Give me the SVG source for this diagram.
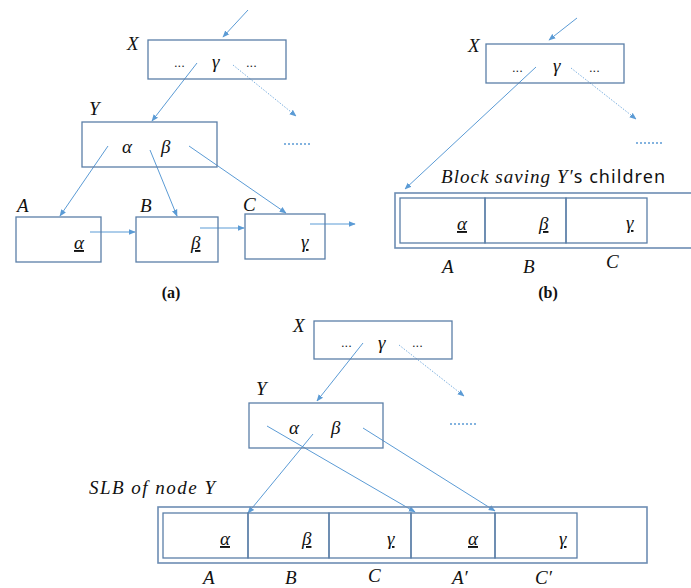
<svg xmlns="http://www.w3.org/2000/svg" width="691" height="588" viewBox="0 0 691 588">
<style>
.box{fill:none;stroke:#5b7fa8;stroke-width:1.3}
.obox{fill:none;stroke:#6d8db3;stroke-width:1.6}
.ar{stroke:#5b9bd5;stroke-width:1;fill:none}
.dot{stroke:#5b9bd5;stroke-width:0.8;stroke-dasharray:1.5 1.5;fill:none}
.dl{stroke:#5b9bd5;stroke-width:1.5;stroke-dasharray:2 2;fill:none}
.m{font-family:"Liberation Serif",serif;font-style:italic;font-size:19px;fill:#111}
.u{text-decoration:underline;text-decoration-skip-ink:none}
.e{font-family:"Liberation Sans",sans-serif;font-size:13px;fill:#222}
.cap{font-family:"Liberation Serif",serif;font-weight:bold;font-size:16px;fill:#111;text-anchor:middle}
.s{font-family:"Noto Sans","Open Sans",sans-serif;font-size:18px;fill:#111}
</style>
<defs>
<marker id="ah" viewBox="0 0 10 10" refX="9" refY="5" markerWidth="7" markerHeight="7" orient="auto" markerUnits="userSpaceOnUse">
<path d="M0,1 L10,5 L0,9 Z" fill="#5b9bd5"/>
</marker>
</defs>

<g id="connectors">
<!-- (a) -->
<line class="ar" x1="248" y1="10" x2="223" y2="37" marker-end="url(#ah)"/>
<line class="ar" x1="197" y1="63" x2="152" y2="121" marker-end="url(#ah)"/>
<line class="dot" x1="233" y1="65" x2="296" y2="116" marker-end="url(#ah)"/>
<line class="dl" x1="284" y1="144" x2="311" y2="144"/>
<line class="ar" x1="108" y1="146" x2="60" y2="216" marker-end="url(#ah)"/>
<line class="ar" x1="150" y1="150" x2="177" y2="216" marker-end="url(#ah)"/>
<line class="ar" x1="189" y1="146" x2="286" y2="213" marker-end="url(#ah)"/>
<line class="ar" x1="90" y1="232" x2="135" y2="232" marker-end="url(#ah)"/>
<line class="ar" x1="200" y1="228" x2="244" y2="228" marker-end="url(#ah)"/>
<line class="ar" x1="310" y1="224" x2="355" y2="224" marker-end="url(#ah)"/>
<!-- (b) -->
<line class="ar" x1="577" y1="18" x2="549" y2="40" marker-end="url(#ah)"/>
<line class="ar" x1="536" y1="67" x2="405" y2="189" marker-end="url(#ah)"/>
<line class="dot" x1="571" y1="68" x2="636" y2="119" marker-end="url(#ah)"/>
<line class="dl" x1="636" y1="143" x2="664" y2="143"/>
<!-- (c) -->
<line class="ar" x1="363" y1="343" x2="317" y2="401" marker-end="url(#ah)"/>
<line class="dot" x1="399" y1="345" x2="464" y2="396" marker-end="url(#ah)"/>
<line class="dl" x1="450" y1="424" x2="477" y2="424"/>
<line class="ar" x1="313" y1="434" x2="248" y2="513" marker-end="url(#ah)"/>
<line class="ar" x1="267" y1="426" x2="415" y2="512" marker-end="url(#ah)"/>
<line class="ar" x1="363" y1="428" x2="495" y2="511" marker-end="url(#ah)"/>
</g>

<!-- Panel (a) -->
<g id="a-X">
<rect class="box" x="148" y="40" width="138" height="39"/>
<text class="m" x="127" y="50">X</text>
<text class="e" x="174" y="67">...</text>
<text class="m" x="212" y="68">γ</text>
<text class="e" x="246" y="67">...</text>
</g>
<g id="a-Y">
<rect class="box" x="82" y="122" width="135" height="45"/>
<text class="m" x="89" y="115">Y</text>
<text class="m" x="122" y="153">α</text>
<text class="m" x="161" y="153">β</text>
</g>
<g id="a-A">
<rect class="box" x="16" y="217" width="85" height="45"/>
<text class="m" x="17" y="212">A</text>
<text class="m u" x="74" y="249">α</text>
</g>
<g id="a-B">
<rect class="box" x="136" y="217" width="82" height="45"/>
<text class="m" x="140" y="212">B</text>
<text class="m u" x="191" y="249">β</text>
</g>
<g id="a-C">
<rect class="box" x="245" y="214" width="80" height="45"/>
<text class="m" x="243" y="211">C</text>
<text class="m u" x="301" y="248">γ</text>
</g>
<text class="cap" x="171" y="298">(a)</text>

<!-- Panel (b) -->
<g id="b-X">
<rect class="box" x="486" y="44" width="138" height="39"/>
<text class="m" x="468" y="52">X</text>
<text class="e" x="512" y="72">...</text>
<text class="m" x="553" y="72">γ</text>
<text class="e" x="589" y="72">...</text>
</g>
<g id="b-block">
<text x="441" y="183" textLength="224" lengthAdjust="spacing"><tspan class="m">Block saving Y′</tspan><tspan class="s">s children</tspan></text>
<rect class="obox" x="395" y="193" width="310" height="55"/>
<rect class="box" x="400" y="198" width="85" height="45"/>
<rect class="box" x="485" y="198" width="81" height="45"/>
<rect class="box" x="566" y="198" width="81" height="45"/>
<text class="m u" x="457" y="230">α</text>
<text class="m u" x="539" y="230">β</text>
<text class="m u" x="626" y="229">γ</text>
<text class="m" x="442" y="273">A</text>
<text class="m" x="523" y="273">B</text>
<text class="m" x="606" y="268">C</text>
</g>
<text class="cap" x="548" y="298">(b)</text>

<!-- Panel (c) -->
<g id="c-X">
<rect class="box" x="314" y="321" width="138" height="38"/>
<text class="m" x="293" y="332">X</text>
<text class="e" x="341" y="347">...</text>
<text class="m" x="378" y="349">γ</text>
<text class="e" x="412" y="347">...</text>
</g>
<g id="c-Y">
<rect class="box" x="249" y="403" width="134" height="45"/>
<text class="m" x="256" y="395">Y</text>
<text class="m" x="289" y="434">α</text>
<text class="m" x="331" y="434">β</text>
</g>
<g id="c-SLB">
<text class="m" x="89" y="494" textLength="126" lengthAdjust="spacing">SLB of node Y</text>
<rect class="obox" x="158" y="507" width="489" height="56"/>
<rect class="box" x="163" y="513" width="85" height="45"/>
<rect class="box" x="248" y="513" width="81" height="45"/>
<rect class="box" x="329" y="513" width="82" height="45"/>
<rect class="box" x="411" y="513" width="84" height="45"/>
<rect class="box" x="495" y="513" width="82" height="45"/>
<text class="m u" x="220" y="545">α</text>
<text class="m u" x="302" y="545">β</text>
<text class="m u" x="387" y="545">γ</text>
<text class="m u" x="468" y="545">α</text>
<text class="m u" x="559" y="545">γ</text>
<text class="m" x="203" y="584">A</text>
<text class="m" x="285" y="584">B</text>
<text class="m" x="368" y="582">C</text>
<text class="m" x="452" y="584">A′</text>
<text class="m" x="535" y="584">C′</text>
</g>
</svg>
